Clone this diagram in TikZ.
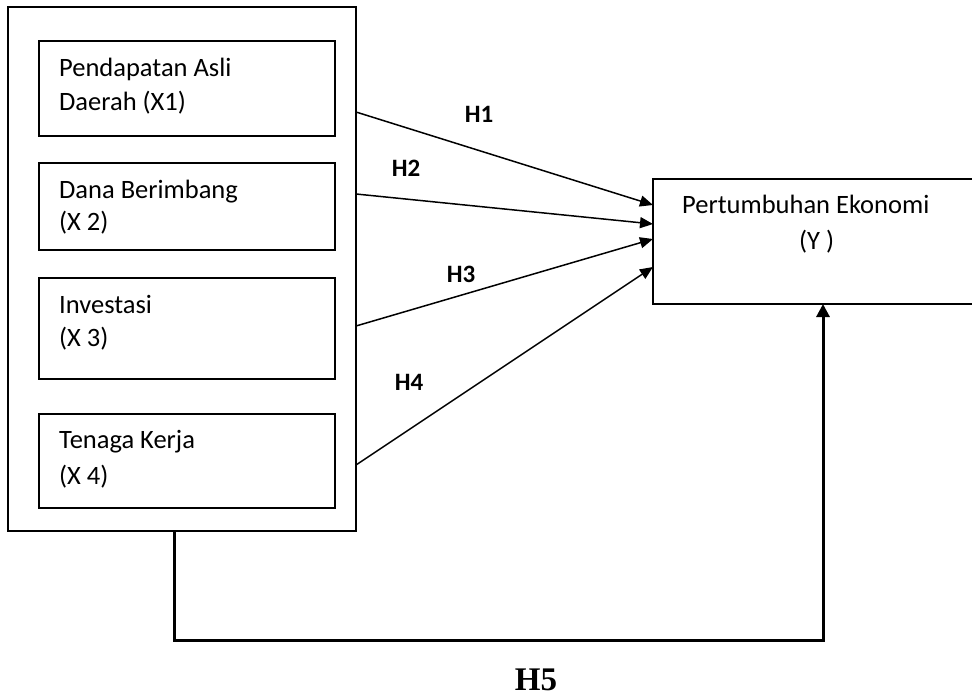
\documentclass[tikz,border=0pt]{standalone}
\usepackage{fontspec}
\setmainfont{Carlito}
\newfontfamily\timesfont{Liberation Serif}
\usetikzlibrary{arrows.meta}
\tikzset{
  box/.style={draw, line width=1.5pt, inner sep=0pt, outer sep=0pt, anchor=north west},
  txt/.style={anchor=base west, inner sep=0pt, font=\fontsize{26.5}{30}\selectfont},
  hlab/.style={inner sep=0pt, font=\fontsize{25}{29}\selectfont\bfseries},
  arr/.style={line width=1.5pt, -{Triangle[length=13pt,width=11pt]}},
  fb/.style={line width=3pt, -{Triangle[length=13pt,width=13pt]}}
}
\begin{document}
\begin{tikzpicture}[x=1pt,y=-1pt]
\useasboundingbox (0,0) rectangle (972,695);
\clip (0,0) rectangle (972,695);
\fill[white] (0,0) rectangle (972,695);
% boxes
\node[box, minimum width=348pt, minimum height=524pt] (outer) at (8,7) {};
\node[box, minimum width=296pt, minimum height=95pt] (b1) at (39,41) {};
\node[box, minimum width=296pt, minimum height=87pt] (b2) at (39,163) {};
\node[box, minimum width=296pt, minimum height=101pt] (b3) at (39,278) {};
\node[box, minimum width=296pt, minimum height=94pt] (b4) at (39,414) {};
\node[box, minimum width=360pt, minimum height=125pt] (y) at (653,179) {};
% texts
\node[txt] (t1a) at (59,77) {Pendapatan Asli};
\node[txt] (t1b) at (59,111) {Daerah (X1)};
\node[txt] (t2a) at (59,199) {Dana Berimbang};
\node[txt] (t2b) at (59,231) {(X 2)};
\node[txt] (t3a) at (59,313) {Investasi};
\node[txt] (t3b) at (59,346) {(X 3)};
\node[txt] (t4a) at (59,448) {Tenaga Kerja};
\node[txt] (t4b) at (59,484) {(X 4)};
\node[txt] (ty1) at (682,214) {Pertumbuhan Ekonomi};
\node[txt] (ty2) at (799,250) {(Y )};
% arrow endpoints
\coordinate (s1) at (356,112);
\coordinate (s2) at (356,194);
\coordinate (s3) at (356,326);
\coordinate (s4) at (356,465);
\coordinate (e1) at (653,205);
\coordinate (e2) at (653,224);
\coordinate (e3) at (653,239);
\coordinate (e4) at (653,267);
\draw[arr] (s1) -- (e1);
\draw[arr] (s2) -- (e2);
\draw[arr] (s3) -- (e3);
\draw[arr] (s4) -- (e4);
% hypothesis labels
\node[hlab] (h1) at (479,114) {H1};
\node[hlab] (h2) at (406,168) {H2};
\node[hlab] (h3) at (461,274) {H3};
\node[hlab] (h4) at (409,382) {H4};
% feedback
\coordinate (f0) at (174,531);
\coordinate (f2) at (823,640);
\draw[fb] (f0) |- (f2) -- (y.south -| f2);
\node[inner sep=0pt, anchor=base, font=\fontsize{33}{36}\selectfont\timesfont\bfseries] (h5) at (536,690) {H5};
\end{tikzpicture}
\end{document}
